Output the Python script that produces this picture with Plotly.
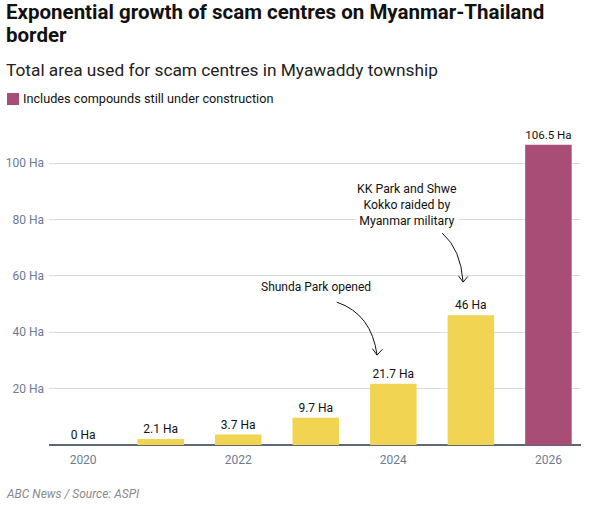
import plotly.graph_objects as go

years = [2020, 2021, 2022, 2023, 2024, 2025, 2026]
area_ha = [0, 2.1, 3.7, 9.7, 21.7, 46, 106.5]
labels = ["0 Ha", "2.1 Ha", "3.7 Ha", "9.7 Ha", "21.7 Ha", "46 Ha", "106.5 Ha"]
under_construction = [False, False, False, False, False, False, True]
y_ticks = [20, 40, 60, 80, 100]
y_tick_text = ["20 Ha", "40 Ha", "60 Ha", "80 Ha", "100 Ha"]
x_ticks = [2020, 2022, 2024, 2026]

YELLOW = "#F1D452"
PURPLE = "#A84E76"
FONT = "Roboto"

colors = [PURPLE if u else YELLOW for u in under_construction]

fig = go.Figure()
fig.add_trace(go.Bar(
    x=years, y=area_ha, text=labels, textposition="outside",
    textfont=dict(family=FONT, size=12, color="#111"),
    marker=dict(color=colors, line=dict(width=0)),
    width=0.6, cliponaxis=False, hoverinfo="skip",
))

fig.update_layout(
    width=601, height=509,
    margin=dict(l=49, r=20, t=135, b=64, autoexpand=False),
    paper_bgcolor="white", plot_bgcolor="white",
    showlegend=False,
    font=dict(family=FONT, color="#222"),
    xaxis=dict(range=[2019.56, 2026.42], tickvals=x_ticks, showgrid=False, automargin=False,
               ticks="", ticklabelstandoff=6, tickfont=dict(size=12, color="#6E7A90"),
               zeroline=False, showline=False, fixedrange=True),
    yaxis=dict(range=[0, 110], tickvals=y_ticks, ticktext=y_tick_text, automargin=False,
               gridcolor="#D6DCE5", gridwidth=1, ticks="", ticklabelstandoff=4,
               tickfont=dict(size=12, color="#6E7A90"),
               zeroline=True, zerolinecolor="#5E6678", zerolinewidth=1.5,
               showline=False, fixedrange=True),
)

PH = 310.0
PW = 532.0

def py(px_from_top):
    return 1 + (135 - px_from_top) / PH

LEFT = -45 / PW

# Title (two lines), subtitle, legend, footer
fig.add_annotation(xref="paper", yref="paper", x=LEFT, y=py(12), xanchor="left", yanchor="middle",
                   showarrow=False, text="<b>Exponential growth of scam centres on Myanmar-Thailand</b>",
                   font=dict(family=FONT, size=20.5, color="#111"))
fig.add_annotation(xref="paper", yref="paper", x=LEFT, y=py(35), xanchor="left", yanchor="middle",
                   showarrow=False, text="<b>border</b>",
                   font=dict(family=FONT, size=20.5, color="#111"))
fig.add_annotation(xref="paper", yref="paper", x=LEFT, y=py(70), xanchor="left", yanchor="middle",
                   showarrow=False, text="Total area used for scam centres in Myawaddy township",
                   font=dict(family=FONT, size=17.3, color="#222"))
fig.add_shape(type="rect", xref="paper", yref="paper", x0=-42/PW, x1=-30/PW,
              y0=py(105), y1=py(93), fillcolor=PURPLE, line=dict(width=0))
fig.add_annotation(xref="paper", yref="paper", x=-28/PW, y=py(99), xanchor="left", yanchor="middle",
                   showarrow=False, text="Includes compounds still under construction",
                   font=dict(family=FONT, size=12.7, color="#111"))
fig.add_annotation(xref="paper", yref="paper", x=LEFT, y=py(494), xanchor="left", yanchor="middle",
                   showarrow=False, text="<i>ABC News / Source: ASPI</i>",
                   font=dict(family=FONT, size=12, color="#8A8A8A"))

# Event annotations
fig.add_annotation(x=2023.0, y=56, xref="x", yref="y", showarrow=False,
                   text="Shunda Park opened", font=dict(family=FONT, size=12, color="#111"),
                   bgcolor="white")
fig.add_annotation(x=2024.17, y=85, xref="x", yref="y", showarrow=False, align="center",
                   text="KK Park and Shwe<br>Kokko raided by<br>Myanmar military",
                   font=dict(family=FONT, size=12.3, color="#111"), bgcolor="white")

arrow_line = dict(color="#111", width=1)
fig.add_shape(type="path", xref="x", yref="y",
              path="M 2023.27 50.7 Q 2023.72 46.5 2023.79 31.9", line=arrow_line)
fig.add_shape(type="path", xref="x", yref="y",
              path="M 2023.73 34.2 L 2023.79 31.9 L 2023.86 34.0", line=arrow_line)
fig.add_shape(type="path", xref="x", yref="y",
              path="M 2024.63 75.2 Q 2024.87 69.5 2024.90 57.8", line=arrow_line)
fig.add_shape(type="path", xref="x", yref="y",
              path="M 2024.84 60.0 L 2024.90 57.8 L 2024.96 59.8", line=arrow_line)

fig.write_html("out.html")
